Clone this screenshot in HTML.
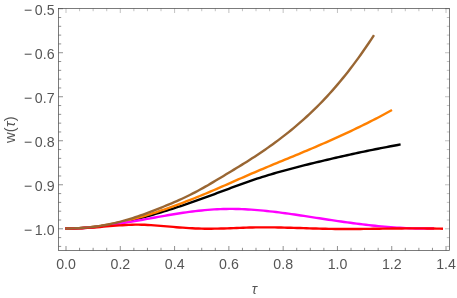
<!DOCTYPE html>
<html><head><meta charset="utf-8"><style>
html,body{margin:0;padding:0;background:#fff;}
svg{display:block}
text{font-family:"Liberation Sans",sans-serif;font-size:14.2px;fill:#555;}
</style></head><body>
<svg width="457" height="298" viewBox="0 0 457 298">
<rect width="457" height="298" fill="#fff"/>
<rect x="58.5" y="8.5" width="391.0" height="242.0" fill="none" stroke="#444" stroke-width="0.7"/>
<path d="M66.00 250.5 v-4.5 M79.57 250.5 v-2.7 M93.14 250.5 v-2.7 M106.72 250.5 v-2.7 M120.29 250.5 v-4.5 M133.86 250.5 v-2.7 M147.44 250.5 v-2.7 M161.01 250.5 v-2.7 M174.58 250.5 v-4.5 M188.15 250.5 v-2.7 M201.72 250.5 v-2.7 M215.30 250.5 v-2.7 M228.87 250.5 v-4.5 M242.44 250.5 v-2.7 M256.01 250.5 v-2.7 M269.59 250.5 v-2.7 M283.16 250.5 v-4.5 M296.73 250.5 v-2.7 M310.31 250.5 v-2.7 M323.88 250.5 v-2.7 M337.45 250.5 v-4.5 M351.02 250.5 v-2.7 M364.60 250.5 v-2.7 M378.17 250.5 v-2.7 M391.74 250.5 v-4.5 M405.31 250.5 v-2.7 M418.88 250.5 v-2.7 M432.46 250.5 v-2.7 M446.03 250.5 v-4.5 M58.5 246.41 h2.7 M58.5 237.60 h2.7 M58.5 228.80 h4.5 M58.5 220.00 h2.7 M58.5 211.19 h2.7 M58.5 202.39 h2.7 M58.5 193.58 h2.7 M58.5 184.78 h4.5 M58.5 175.98 h2.7 M58.5 167.17 h2.7 M58.5 158.37 h2.7 M58.5 149.56 h2.7 M58.5 140.76 h4.5 M58.5 131.96 h2.7 M58.5 123.15 h2.7 M58.5 114.35 h2.7 M58.5 105.54 h2.7 M58.5 96.74 h4.5 M58.5 87.94 h2.7 M58.5 79.13 h2.7 M58.5 70.33 h2.7 M58.5 61.52 h2.7 M58.5 52.72 h4.5 M58.5 43.92 h2.7 M58.5 35.11 h2.7 M58.5 26.31 h2.7 M58.5 17.50 h2.7 M58.5 8.70 h4.5" fill="none" stroke="#444" stroke-width="0.6"/>
<path d="M66.00 8.5 v4.5 M79.57 8.5 v2.7 M93.14 8.5 v2.7 M106.72 8.5 v2.7 M120.29 8.5 v4.5 M133.86 8.5 v2.7 M147.44 8.5 v2.7 M161.01 8.5 v2.7 M174.58 8.5 v4.5 M188.15 8.5 v2.7 M201.72 8.5 v2.7 M215.30 8.5 v2.7 M228.87 8.5 v4.5 M242.44 8.5 v2.7 M256.01 8.5 v2.7 M269.59 8.5 v2.7 M283.16 8.5 v4.5 M296.73 8.5 v2.7 M310.31 8.5 v2.7 M323.88 8.5 v2.7 M337.45 8.5 v4.5 M351.02 8.5 v2.7 M364.60 8.5 v2.7 M378.17 8.5 v2.7 M391.74 8.5 v4.5 M405.31 8.5 v2.7 M418.88 8.5 v2.7 M432.46 8.5 v2.7 M446.03 8.5 v4.5 M449.5 246.41 h-2.7 M449.5 237.60 h-2.7 M449.5 228.80 h-4.5 M449.5 220.00 h-2.7 M449.5 211.19 h-2.7 M449.5 202.39 h-2.7 M449.5 193.58 h-2.7 M449.5 184.78 h-4.5 M449.5 175.98 h-2.7 M449.5 167.17 h-2.7 M449.5 158.37 h-2.7 M449.5 149.56 h-2.7 M449.5 140.76 h-4.5 M449.5 131.96 h-2.7 M449.5 123.15 h-2.7 M449.5 114.35 h-2.7 M449.5 105.54 h-2.7 M449.5 96.74 h-4.5 M449.5 87.94 h-2.7 M449.5 79.13 h-2.7 M449.5 70.33 h-2.7 M449.5 61.52 h-2.7 M449.5 52.72 h-4.5 M449.5 43.92 h-2.7 M449.5 35.11 h-2.7 M449.5 26.31 h-2.7 M449.5 17.50 h-2.7 M449.5 8.70 h-4.5" fill="none" stroke="#444" stroke-width="0.6" stroke-opacity="0.55"/>
<path d="M65.30 228.50 L68.12 228.49 L70.94 228.44 L73.75 228.37 L76.57 228.27 L79.39 228.14 L82.21 227.98 L85.02 227.78 L87.84 227.56 L90.66 227.31 L93.48 227.03 L96.29 226.71 L99.11 226.37 L101.93 226.00 L104.75 225.59 L107.56 225.16 L110.38 224.70 L113.20 224.21 L116.02 223.69 L118.84 223.14 L121.65 222.57 L124.47 221.97 L127.29 221.35 L130.11 220.70 L132.92 220.02 L135.74 219.33 L138.56 218.60 L141.38 217.86 L144.19 217.10 L147.01 216.33 L149.83 215.54 L152.65 214.74 L155.46 213.93 L158.28 213.10 L161.10 212.27 L163.92 211.41 L166.74 210.55 L169.55 209.67 L172.37 208.79 L175.19 207.88 L178.01 206.97 L180.82 206.04 L183.64 205.10 L186.46 204.15 L189.28 203.18 L192.09 202.21 L194.91 201.22 L197.73 200.22 L200.55 199.21 L203.36 198.19 L206.18 197.16 L209.00 196.12 L211.82 195.08 L214.64 194.03 L217.45 192.98 L220.27 191.93 L223.09 190.87 L225.91 189.82 L228.72 188.77 L231.54 187.72 L234.36 186.68 L237.18 185.64 L239.99 184.62 L242.81 183.60 L245.63 182.59 L248.45 181.60 L251.26 180.62 L254.08 179.67 L256.90 178.73 L259.72 177.82 L262.54 176.92 L265.35 176.05 L268.17 175.18 L270.99 174.34 L273.81 173.50 L276.62 172.69 L279.44 171.88 L282.26 171.09 L285.08 170.32 L287.89 169.55 L290.71 168.80 L293.53 168.06 L296.35 167.32 L299.16 166.60 L301.98 165.89 L304.80 165.18 L307.62 164.48 L310.44 163.79 L313.25 163.10 L316.07 162.42 L318.89 161.74 L321.71 161.07 L324.52 160.40 L327.34 159.74 L330.16 159.08 L332.98 158.43 L335.79 157.78 L338.61 157.13 L341.43 156.49 L344.25 155.86 L347.06 155.23 L349.88 154.60 L352.70 153.98 L355.52 153.37 L358.34 152.76 L361.15 152.16 L363.97 151.57 L366.79 150.98 L369.61 150.40 L372.42 149.83 L375.24 149.27 L378.06 148.71 L380.88 148.16 L383.69 147.62 L386.51 147.08 L389.33 146.55 L392.15 146.02 L394.96 145.49 L397.78 144.96 L400.60 144.42" fill="none" stroke="#000000" stroke-width="2.4" stroke-linecap="butt" stroke-linejoin="round"/>
<path d="M65.30 228.50 L68.05 228.49 L70.79 228.44 L73.54 228.37 L76.28 228.26 L79.03 228.13 L81.77 227.96 L84.52 227.76 L87.26 227.53 L90.01 227.27 L92.75 226.98 L95.50 226.65 L98.24 226.30 L100.99 225.91 L103.74 225.49 L106.48 225.04 L109.23 224.56 L111.97 224.05 L114.72 223.51 L117.46 222.95 L120.21 222.35 L122.95 221.72 L125.70 221.07 L128.44 220.39 L131.19 219.68 L133.93 218.95 L136.68 218.19 L139.43 217.41 L142.17 216.60 L144.92 215.78 L147.66 214.94 L150.41 214.08 L153.15 213.20 L155.90 212.31 L158.64 211.40 L161.39 210.48 L164.13 209.54 L166.88 208.58 L169.62 207.61 L172.37 206.63 L175.12 205.63 L177.86 204.61 L180.61 203.58 L183.35 202.54 L186.10 201.49 L188.84 200.42 L191.59 199.34 L194.33 198.24 L197.08 197.13 L199.82 196.01 L202.57 194.88 L205.31 193.74 L208.06 192.59 L210.81 191.43 L213.55 190.26 L216.30 189.08 L219.04 187.89 L221.79 186.70 L224.53 185.50 L227.28 184.30 L230.02 183.10 L232.77 181.89 L235.51 180.68 L238.26 179.46 L241.00 178.25 L243.75 177.05 L246.49 175.84 L249.24 174.65 L251.99 173.46 L254.73 172.28 L257.48 171.11 L260.22 169.94 L262.97 168.78 L265.71 167.63 L268.46 166.49 L271.20 165.35 L273.95 164.22 L276.69 163.09 L279.44 161.96 L282.18 160.83 L284.93 159.69 L287.68 158.56 L290.42 157.43 L293.17 156.30 L295.91 155.16 L298.66 154.02 L301.40 152.88 L304.15 151.73 L306.89 150.57 L309.64 149.42 L312.38 148.25 L315.13 147.08 L317.87 145.90 L320.62 144.71 L323.37 143.52 L326.11 142.32 L328.86 141.11 L331.60 139.89 L334.35 138.66 L337.09 137.42 L339.84 136.17 L342.58 134.91 L345.33 133.64 L348.07 132.36 L350.82 131.07 L353.56 129.77 L356.31 128.45 L359.06 127.13 L361.80 125.79 L364.55 124.43 L367.29 123.07 L370.04 121.69 L372.78 120.29 L375.53 118.88 L378.27 117.45 L381.02 116.01 L383.76 114.54 L386.51 113.05 L389.25 111.53 L392.00 109.99" fill="none" stroke="#ff8000" stroke-width="2.4" stroke-linecap="butt" stroke-linejoin="round"/>
<path d="M65.30 228.64 L68.40 228.62 L71.50 228.56 L74.59 228.47 L77.69 228.33 L80.79 228.16 L83.89 227.96 L86.99 227.72 L90.09 227.46 L93.18 227.16 L96.28 226.83 L99.38 226.48 L102.48 226.11 L105.58 225.71 L108.68 225.29 L111.77 224.85 L114.87 224.39 L117.97 223.92 L121.07 223.43 L124.17 222.92 L127.27 222.40 L130.36 221.88 L133.46 221.34 L136.56 220.80 L139.66 220.25 L142.76 219.70 L145.86 219.14 L148.95 218.58 L152.05 218.02 L155.15 217.47 L158.25 216.92 L161.35 216.37 L164.45 215.83 L167.54 215.30 L170.64 214.77 L173.74 214.26 L176.84 213.76 L179.94 213.28 L183.04 212.81 L186.13 212.36 L189.23 211.93 L192.33 211.52 L195.43 211.14 L198.53 210.78 L201.63 210.44 L204.72 210.13 L207.82 209.86 L210.92 209.61 L214.02 209.40 L217.12 209.23 L220.22 209.09 L223.31 208.99 L226.41 208.93 L229.51 208.91 L232.61 208.92 L235.71 208.96 L238.81 209.04 L241.90 209.15 L245.00 209.29 L248.10 209.45 L251.20 209.65 L254.30 209.87 L257.40 210.11 L260.49 210.38 L263.59 210.67 L266.69 210.99 L269.79 211.32 L272.89 211.67 L275.99 212.04 L279.08 212.42 L282.18 212.82 L285.28 213.23 L288.38 213.66 L291.48 214.09 L294.58 214.54 L297.67 214.99 L300.77 215.45 L303.87 215.92 L306.97 216.39 L310.07 216.87 L313.17 217.34 L316.26 217.82 L319.36 218.30 L322.46 218.77 L325.56 219.24 L328.66 219.71 L331.76 220.17 L334.85 220.63 L337.95 221.08 L341.05 221.52 L344.15 221.96 L347.25 222.39 L350.35 222.80 L353.44 223.21 L356.54 223.61 L359.64 224.00 L362.74 224.38 L365.84 224.75 L368.94 225.10 L372.03 225.44 L375.13 225.77 L378.23 226.08 L381.33 226.37 L384.43 226.65 L387.53 226.92 L390.62 227.16 L393.72 227.39 L396.82 227.60 L399.92 227.80 L403.02 227.97 L406.12 228.12 L409.21 228.25 L412.31 228.36 L415.41 228.45 L418.51 228.51 L421.61 228.55 L424.71 228.57 L427.80 228.56 L430.90 228.52 L434.00 228.46" fill="none" stroke="#ff00ff" stroke-width="2.4" stroke-linecap="butt" stroke-linejoin="round"/>
<path d="M65.30 228.48 L68.47 228.51 L71.65 228.49 L74.82 228.44 L78.00 228.34 L81.17 228.21 L84.34 228.05 L87.52 227.87 L90.69 227.66 L93.87 227.43 L97.04 227.19 L100.21 226.94 L103.39 226.67 L106.56 226.41 L109.74 226.14 L112.91 225.88 L116.08 225.63 L119.26 225.40 L122.43 225.18 L125.61 225.00 L128.78 224.85 L131.95 224.73 L135.13 224.67 L138.30 224.65 L141.47 224.69 L144.65 224.79 L147.82 224.93 L151.00 225.12 L154.17 225.34 L157.34 225.58 L160.52 225.84 L163.69 226.10 L166.87 226.38 L170.04 226.65 L173.21 226.92 L176.39 227.18 L179.56 227.43 L182.74 227.67 L185.91 227.89 L189.08 228.10 L192.26 228.28 L195.43 228.43 L198.61 228.55 L201.78 228.63 L204.95 228.69 L208.13 228.71 L211.30 228.70 L214.48 228.67 L217.65 228.61 L220.82 228.54 L224.00 228.45 L227.17 228.35 L230.35 228.24 L233.52 228.13 L236.69 228.01 L239.87 227.89 L243.04 227.78 L246.22 227.67 L249.39 227.57 L252.56 227.49 L255.74 227.42 L258.91 227.38 L262.08 227.35 L265.26 227.34 L268.43 227.35 L271.61 227.37 L274.78 227.41 L277.95 227.46 L281.13 227.52 L284.30 227.60 L287.48 227.68 L290.65 227.77 L293.82 227.86 L297.00 227.96 L300.17 228.06 L303.35 228.16 L306.52 228.27 L309.69 228.37 L312.87 228.47 L316.04 228.56 L319.22 228.65 L322.39 228.73 L325.56 228.80 L328.74 228.86 L331.91 228.92 L335.09 228.96 L338.26 228.98 L341.43 229.00 L344.61 229.01 L347.78 229.01 L350.96 229.01 L354.13 228.99 L357.30 228.97 L360.48 228.95 L363.65 228.92 L366.83 228.88 L370.00 228.84 L373.17 228.80 L376.35 228.76 L379.52 228.72 L382.69 228.67 L385.87 228.63 L389.04 228.59 L392.22 228.55 L395.39 228.51 L398.56 228.47 L401.74 228.44 L404.91 228.42 L408.09 228.40 L411.26 228.38 L414.43 228.37 L417.61 228.38 L420.78 228.38 L423.96 228.40 L427.13 228.43 L430.30 228.47 L433.48 228.52 L436.65 228.59 L439.83 228.66 L443.00 228.75" fill="none" stroke="#ff0000" stroke-width="2.4" stroke-linecap="butt" stroke-linejoin="round"/>
<path d="M65.30 228.50 L67.89 228.49 L70.49 228.45 L73.08 228.39 L75.68 228.30 L78.27 228.19 L80.86 228.04 L83.46 227.86 L86.05 227.65 L88.65 227.41 L91.24 227.13 L93.84 226.82 L96.43 226.48 L99.02 226.10 L101.62 225.68 L104.21 225.23 L106.81 224.75 L109.40 224.23 L111.99 223.68 L114.59 223.09 L117.18 222.47 L119.78 221.81 L122.37 221.13 L124.96 220.41 L127.56 219.65 L130.15 218.87 L132.75 218.06 L135.34 217.21 L137.94 216.34 L140.53 215.44 L143.12 214.51 L145.72 213.55 L148.31 212.57 L150.91 211.58 L153.50 210.58 L156.09 209.58 L158.69 208.56 L161.28 207.54 L163.88 206.50 L166.47 205.45 L169.06 204.39 L171.66 203.30 L174.25 202.20 L176.85 201.07 L179.44 199.91 L182.04 198.73 L184.63 197.51 L187.22 196.27 L189.82 194.99 L192.41 193.68 L195.01 192.33 L197.60 190.96 L200.19 189.55 L202.79 188.11 L205.38 186.65 L207.98 185.17 L210.57 183.66 L213.16 182.13 L215.76 180.59 L218.35 179.04 L220.95 177.48 L223.54 175.91 L226.14 174.34 L228.73 172.77 L231.32 171.19 L233.92 169.62 L236.51 168.05 L239.11 166.48 L241.70 164.89 L244.29 163.28 L246.89 161.65 L249.48 160.00 L252.08 158.34 L254.67 156.65 L257.26 154.94 L259.86 153.21 L262.45 151.45 L265.05 149.67 L267.64 147.87 L270.24 146.03 L272.83 144.17 L275.42 142.28 L278.02 140.35 L280.61 138.40 L283.21 136.41 L285.80 134.39 L288.39 132.32 L290.99 130.23 L293.58 128.09 L296.18 125.91 L298.77 123.69 L301.36 121.43 L303.96 119.12 L306.55 116.76 L309.15 114.36 L311.74 111.91 L314.34 109.40 L316.93 106.85 L319.52 104.24 L322.12 101.58 L324.71 98.86 L327.31 96.08 L329.90 93.24 L332.49 90.34 L335.09 87.39 L337.68 84.37 L340.28 81.28 L342.87 78.13 L345.46 74.92 L348.06 71.64 L350.65 68.30 L353.25 64.88 L355.84 61.40 L358.44 57.85 L361.03 54.24 L363.62 50.55 L366.22 46.80 L368.81 42.97 L371.41 39.08 L374.00 35.12" fill="none" stroke="#996633" stroke-width="2.4" stroke-linecap="butt" stroke-linejoin="round"/>
<g style="filter:grayscale(1)">
<text transform="translate(66.10 268.6) scale(1 1.06)" text-anchor="middle">0.0</text>
<text transform="translate(120.38 268.6) scale(1 1.06)" text-anchor="middle">0.2</text>
<text transform="translate(174.66 268.6) scale(1 1.06)" text-anchor="middle">0.4</text>
<text transform="translate(228.94 268.6) scale(1 1.06)" text-anchor="middle">0.6</text>
<text transform="translate(283.22 268.6) scale(1 1.06)" text-anchor="middle">0.8</text>
<text transform="translate(337.50 268.6) scale(1 1.06)" text-anchor="middle">1.0</text>
<text transform="translate(391.78 268.6) scale(1 1.06)" text-anchor="middle">1.2</text>
<text transform="translate(446.06 268.6) scale(1 1.06)" text-anchor="middle">1.4</text>
<text transform="translate(54.6 14.70) scale(1 1.06)" text-anchor="end"><tspan>−</tspan><tspan dx="2.6">0.5</tspan></text>
<text transform="translate(54.6 58.72) scale(1 1.06)" text-anchor="end"><tspan>−</tspan><tspan dx="2.6">0.6</tspan></text>
<text transform="translate(54.6 102.74) scale(1 1.06)" text-anchor="end"><tspan>−</tspan><tspan dx="2.6">0.7</tspan></text>
<text transform="translate(54.6 146.76) scale(1 1.06)" text-anchor="end"><tspan>−</tspan><tspan dx="2.6">0.8</tspan></text>
<text transform="translate(54.6 190.78) scale(1 1.06)" text-anchor="end"><tspan>−</tspan><tspan dx="2.6">0.9</tspan></text>
<text transform="translate(54.6 234.80) scale(1 1.06)" text-anchor="end"><tspan>−</tspan><tspan dx="2.6">1.0</tspan></text>
<text x="254.4" y="293.5" text-anchor="middle" font-style="italic">τ</text>
<text transform="translate(15.2 129.6) rotate(-90) scale(1.04 1)" text-anchor="middle" letter-spacing="0.25">w(<tspan font-style="italic">τ</tspan>)</text>
</g>
</svg>
</body></html>
